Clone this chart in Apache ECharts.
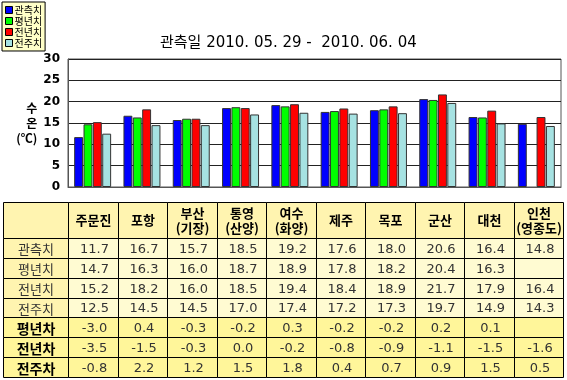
<!DOCTYPE html>
<html><head><meta charset="utf-8">
<script src="https://cdn.jsdelivr.net/npm/echarts@6/dist/echarts.min.js"></script>
<style>html,body{margin:0;padding:0;background:#fff}#c{width:567px;height:380px}</style>
</head><body><div id="c"></div>
<script>
const categories = ['주문진','포항','부산(기장)','통영(산양)','여수(화양)','제주','목포','군산','대천','인천(영종도)'];
const seriesNames = ['관측치','평년치','전년치','전주치'];
const observed = [11.7,16.7,15.7,18.5,19.2,17.6,18.0,20.6,16.4,14.8];
const normal   = [14.7,16.3,16.0,18.7,18.9,17.8,18.2,20.4,16.3,null];
const lastYear = [15.2,18.2,16.0,18.5,19.4,18.4,18.9,21.7,17.9,16.4];
const lastWeek = [12.5,14.5,14.5,17.0,17.4,17.2,17.3,19.7,14.9,14.3];
const diffNames = ['평년차','전년차','전주차'];
const diffNormal   = [-3.0,0.4,-0.3,-0.2,0.3,-0.2,-0.2,0.2,0.1,null];
const diffLastYear = [-3.5,-1.5,-0.3,0.0,-0.2,-0.8,-0.9,-1.1,-1.5,-1.6];
const diffLastWeek = [-0.8,2.2,1.2,1.5,1.8,0.4,0.7,0.9,1.5,0.5];
const yMin = 0, yMax = 30, yStep = 5;
const titleText = '관측일 2010. 05. 29 -  2010. 06. 04';
const yAxisName = '수\n온\n(℃)';

const barValues = [observed, normal, lastYear, lastWeek];
const colors = ['#0000FF','#00FF00','#FF0000','#A6E2E2'];
const rowNames = seriesNames.concat(diffNames);
const rowValues = [observed, normal, lastYear, lastWeek, diffNormal, diffLastYear, diffLastWeek];
const FONT = '"Noto Sans CJK KR", "Noto Sans", sans-serif';
const HEADER_H = 36, TABLE_LEFT = 3;
const headFill = '#FFF4B0', dataFill = '#FFFBD2', diffFill = '#FFF69A';

function cell(api, c, r) {
  const p = api.coord([c, r]); const s = api.size([1, 1]);
  const x0 = Math.round(p[0] - s[0] / 2) + 0.5, x1 = Math.round(p[0] + s[0] / 2) + 0.5;
  const y0 = Math.round(p[1] - s[1] / 2) + 0.5, y1 = Math.round(p[1] + s[1] / 2) + 0.5;
  return {x: x0, y: y0, width: x1 - x0, height: y1 - y0};
}

const cellData = [];
rowValues.forEach((row, r) => row.forEach((v, c) => cellData.push([c, r])));
const colHeadData = categories.map((n, c) => [c, 0]);
const rowHeadData = rowNames.map((n, r) => [0, r]);

const chart = echarts.init(document.getElementById('c'), null, {renderer: 'canvas'});
chart.setOption({
  animation: false,
  textStyle: {fontFamily: FONT},
  title: {text: titleText, left: 160, top: 36, padding: 0,
    textStyle: {fontSize: 15, fontWeight: 'normal', color: '#000', fontFamily: '"DejaVu Sans", "Noto Sans CJK KR", sans-serif'}},
  legend: {orient: 'vertical', left: 2, top: 2, padding: [3, 3], itemGap: 1,
    itemWidth: 7, itemHeight: 7, backgroundColor: '#FFFFC8', borderColor: '#000', borderWidth: 1,
    icon: 'rect', textStyle: {fontSize: 10, color: '#000', fontFamily: FONT, padding: [0, 0, 0, -3]},
    itemStyle: {borderColor: '#000', borderWidth: 1},
    data: seriesNames},
  grid: [
    {left: 68, right: 6, top: 59, bottom: 193, show: true, borderColor: '#555', borderWidth: 1},
    {left: 68, right: 4, top: 238, bottom: 3}
  ],
  xAxis: [
    {type: 'category', gridIndex: 0, data: categories, axisLabel: {show: false}, axisTick: {show: false},
      axisLine: {lineStyle: {color: '#555'}}},
    {type: 'category', gridIndex: 1, data: categories, show: false}
  ],
  yAxis: [
    {type: 'value', gridIndex: 0, min: yMin, max: yMax, interval: yStep,
      name: yAxisName, nameLocation: 'middle', nameGap: 30, nameRotate: 0,
      nameTextStyle: {fontSize: 12, color: '#000', fontWeight: 'bold', lineHeight: 15, fontFamily: FONT},
      axisLabel: {fontSize: 12, fontWeight: 'bold', color: '#000', margin: 8, fontFamily: 'DejaVu Sans'},
      axisLine: {show: true, lineStyle: {color: '#555'}}, axisTick: {show: false},
      splitLine: {lineStyle: {color: '#222', width: 1}}},
    {type: 'category', gridIndex: 1, data: rowNames, inverse: true, show: false}
  ],
  series: seriesNames.map((name, i) => ({
    name, type: 'bar', xAxisIndex: 0, yAxisIndex: 0, data: barValues[i],
    barGap: '5%', barCategoryGap: '25%',
    itemStyle: {color: colors[i], borderColor: '#333', borderWidth: 1}
  })).concat([
    {type: 'custom', xAxisIndex: 1, yAxisIndex: 1, data: cellData, silent: true,
      renderItem: function (params, api) {
        const c = api.value(0), r = api.value(1);
        const b = cell(api, c, r);
        const v = rowValues[r][c];
        return {type: 'group', children: [
          {type: 'rect', shape: b, style: {fill: r < 4 ? dataFill : diffFill, stroke: '#000', lineWidth: 1}},
          {type: 'text', style: {x: b.x + b.width / 2 + 1, y: b.y + b.height / 2 + 1,
            text: v == null ? '' : v.toFixed(1), align: 'center', verticalAlign: 'middle',
            font: '13px "DejaVu Sans"', fill: '#333'}}
        ]};
      }},
    {type: 'custom', xAxisIndex: 1, yAxisIndex: 1, data: colHeadData, silent: true,
      renderItem: function (params, api) {
        const c = api.value(0);
        const b = cell(api, c, 0);
        const hb = {x: b.x, y: b.y - HEADER_H, width: b.width, height: HEADER_H};
        const children = [
          {type: 'rect', shape: hb, style: {fill: headFill, stroke: '#000', lineWidth: 1}},
          {type: 'text', style: {x: hb.x + hb.width / 2, y: hb.y + hb.height / 2,
            text: categories[c].replace('(', '\n('), align: 'center', verticalAlign: 'middle',
            font: 'bold 13px ' + FONT, lineHeight: 15, fill: '#000'}}
        ];
        if (c === 0) {
          children.unshift({type: 'rect', shape: {x: TABLE_LEFT + 0.5, y: hb.y, width: hb.x - TABLE_LEFT - 0.5, height: HEADER_H},
            style: {fill: headFill, stroke: '#000', lineWidth: 1}});
        }
        return {type: 'group', children};
      }},
    {type: 'custom', xAxisIndex: 1, yAxisIndex: 1, data: rowHeadData, silent: true,
      renderItem: function (params, api) {
        const r = api.value(1);
        const b = cell(api, 0, r);
        const rb = {x: TABLE_LEFT + 0.5, y: b.y, width: b.x - TABLE_LEFT - 0.5, height: b.height};
        const diff = r >= 4;
        return {type: 'group', children: [
          {type: 'rect', shape: rb, style: {fill: diff ? diffFill : headFill, stroke: '#000', lineWidth: 1}},
          {type: 'text', style: {x: rb.x + rb.width / 2, y: rb.y + rb.height / 2 + 1,
            text: rowNames[r], align: 'center', verticalAlign: 'middle',
            font: (diff ? 'bold 14px ' : '13px ') + FONT, fill: diff ? '#000' : '#333'}}
        ]};
      }}
  ])
});
</script></body></html>
